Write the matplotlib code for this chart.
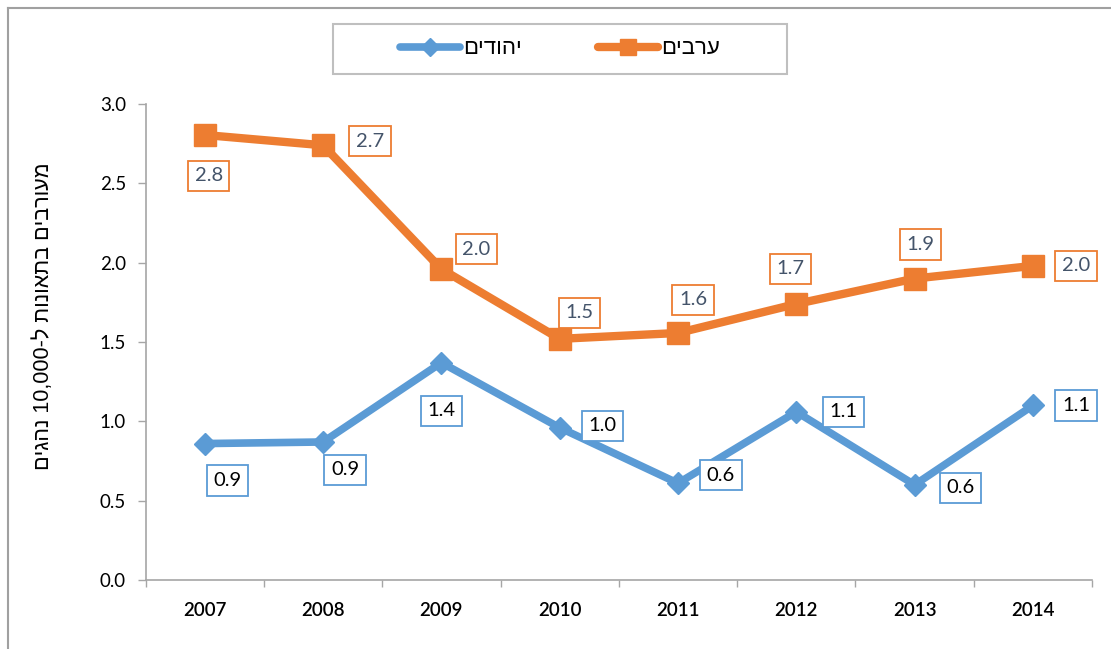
import re
import numpy as np
import matplotlib
matplotlib.use("Agg")
import matplotlib.pyplot as plt
from matplotlib.lines import Line2D
from matplotlib.patches import Rectangle

# ---- data ----
years = ["2007", "2008", "2009", "2010", "2011", "2012", "2013", "2014"]
arabs = [2.805, 2.74, 1.96, 1.52, 1.557, 1.74, 1.90, 1.98]
jews = [0.86, 0.87, 1.37, 0.96, 0.61, 1.06, 0.60, 1.10]
yticks = [0.0, 0.5, 1.0, 1.5, 2.0, 2.5, 3.0]
name_arabs = "ערבים"
name_jews = "יהודים"
ylabel_text = "מעורבים בתאונות ל-10,000 נהגים"

# label offsets (pixels) relative to points
off_arabs = [(4, -41), (47, 4), (35, 20), (20, 26), (15, 33), (-6, 35), (6, 34), (43, 0)]
off_jews = [(23, -37), (22, -28), (0, -48), (43, 2), (43, 8), (47, 0), (46, -3), (43, 0)]

ORANGE = "#ED7D31"
BLUE = "#5B9BD5"


def visual(s):
    r = s[::-1]
    return re.sub(r"[0-9][0-9,.]*[0-9]|[0-9]", lambda m: m.group(0)[::-1], r)


fig = plt.figure(figsize=(11.11, 6.49), dpi=100)
ax = fig.add_axes([0.131, 0.1063, 0.852, 0.7334])
x = np.arange(len(years))

ax.plot(x, arabs, color=ORANGE, lw=6, marker="s", ms=16, mec=ORANGE, zorder=3)
ax.plot(x, jews, color=BLUE, lw=5.5, marker="D", ms=11.5, mec=BLUE, zorder=3)

for xi, v, off in zip(x, arabs, off_arabs):
    ax.annotate(f"{v:.1f}", (xi, v), xytext=off, textcoords="offset pixels",
                ha="center", va="center", fontsize=14.5, family="Lato", color="#44546A",
                bbox=dict(boxstyle="square,pad=0.33", fc="white", ec=ORANGE, lw=1.3),
                zorder=5, annotation_clip=False)
for xi, v, off in zip(x, jews, off_jews):
    ax.annotate(f"{v:.1f}", (xi, v), xytext=off, textcoords="offset pixels",
                ha="center", va="center", fontsize=14.5, family="Lato", color="black",
                bbox=dict(boxstyle="square,pad=0.33", fc="white", ec=BLUE, lw=1.3),
                zorder=5, annotation_clip=False)

ax.set_xlim(-0.5, len(years) - 0.5)
ax.set_ylim(0, 3.0)
ax.set_yticks(yticks)
ax.set_yticklabels([f"{t:.1f}" for t in yticks], fontsize=13.5, family="Lato")
ax.set_xticks(x)
ax.set_xticklabels(years, fontsize=13.5, family="Lato", fontweight="semibold")
ax.set_xticks(np.arange(-0.5, len(years)), minor=True)
ax.tick_params(axis="x", which="major", length=0, pad=16)
ax.tick_params(axis="x", which="minor", length=5, color="#A6A6A6", width=1)
ax.tick_params(axis="y", length=6, color="#A6A6A6", width=1, pad=8)
for s in ["top", "right"]:
    ax.spines[s].set_visible(False)
for s in ["left", "bottom"]:
    ax.spines[s].set_color("#A6A6A6")
    ax.spines[s].set_linewidth(1.2)

fig.text(0.0396, 0.512, visual(ylabel_text), rotation=90, ha="center", va="center",
         fontsize=15.5, family=["Liberation Sans", "DejaVu Sans"])

# legend
fig.add_artist(Rectangle((333 / 1111, 1 - 74 / 649), 454 / 1111, 50 / 649,
                         transform=fig.transFigure, fill=False, ec="#BFBFBF", lw=1.5))
h_jews = Line2D([], [], color=BLUE, lw=5.5, marker="D", ms=9, solid_capstyle="round")
h_arabs = Line2D([], [], color=ORANGE, lw=6, marker="s", ms=11, solid_capstyle="round")
fig.legend([h_jews, h_arabs], [visual(name_jews), visual(name_arabs)], ncol=2,
           loc="center", bbox_to_anchor=(560 / 1111, 1 - 49 / 649), frameon=False,
           handlelength=2.7, handletextpad=0.15, columnspacing=3.4,
           prop={"family": ["Liberation Sans", "DejaVu Sans"], "size": 16})

# outer frame (top and left visible)
fig.add_artist(Line2D([8 / 1111, 1.0], [1 - 8 / 649, 1 - 8 / 649], transform=fig.transFigure,
                      color="#A0A0A0", lw=1.5))
fig.add_artist(Line2D([8 / 1111, 8 / 1111], [0, 1 - 8 / 649], transform=fig.transFigure,
                      color="#A0A0A0", lw=1.5))

fig.savefig("out.png", dpi=100)
